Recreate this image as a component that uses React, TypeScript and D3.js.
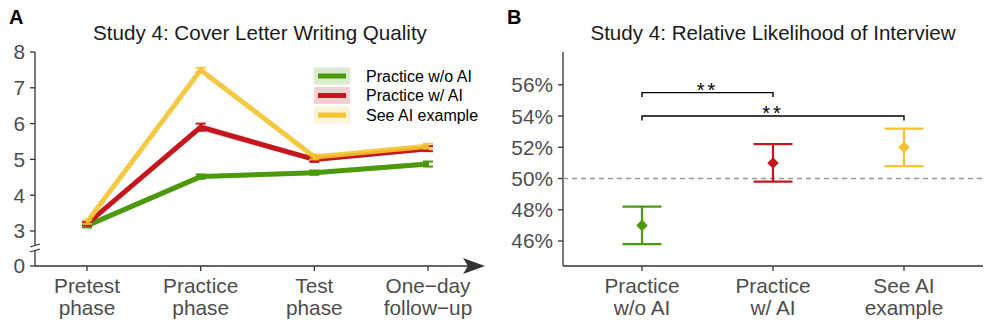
import React from 'react';
import * as d3 from 'd3';

// panel A: writing quality by phase
const phases = ['Pretest|phase', 'Practice|phase', 'Test|phase', 'One\u2212day|follow\u2212up'];
const groupNames = ['Practice w/o AI', 'Practice w/ AI', 'See AI example'];
const groupColors = ['#4c9a0c', '#c5161d', '#f5c32f'];
const qualityMean = [
    [3.15, 4.52, 4.63, 4.87],
    [3.2, 5.9, 5.0, 5.3],
    [3.25, 7.5, 5.07, 5.37],
];
const qualitySe = [
    [0.05, 0.06, 0.06, 0.07],
    [0.05, 0.1, 0.07, 0.07],
    [0.05, 0.06, 0.07, 0.07],
];
const qualityTicks = [0, 3, 4, 5, 6, 7, 8];

// panel B: relative likelihood of interview (%)
const bLabels = ['Practice|w/o AI', 'Practice|w/ AI', 'See AI|example'];
const interviewMean = [47.0, 51.0, 52.0];
const interviewLow = [45.8, 49.8, 50.8];
const interviewHigh = [48.2, 52.2, 53.2];
const interviewTicks = [46, 48, 50, 52, 54, 56];
const brackets = [
    { from: 0, to: 1, y: 55.5, label: '**' },
    { from: 0, to: 2, y: 54.0, label: '**' },
];

const FONT = '"Liberation Sans", Arial, Helvetica, sans-serif';
const axisCol = '#333333';
const tickTextCol = '#4d4d4d';
const TICK_FS = 20.8;
const TITLE_FS = 20.6;

function PanelA() {
    const x = d3.scalePoint<string>().domain(phases).range([87, 428]);
    const y = d3.scaleLinear().domain([0, 3, 8]).range([266, 231, 52]);

    const line = d3
        .line<number>()
        .x((_, i) => x(phases[i]) as number)
        .y((d) => y(d));

    const ribbon = (g: number) =>
        d3
            .area<number>()
            .x((_, i) => x(phases[i]) as number)
            .y0((d, i) => y(d - qualitySe[g][i]))
            .y1((d, i) => y(d + qualitySe[g][i]))(qualityMean[g]);

    return (
        <g>
            <text x={9} y={24} fontSize={20} fontWeight="bold" fill="#000">A</text>
            <text x={260} y={40} fontSize={TITLE_FS} textAnchor="middle" fill="#1a1a1a">
                Study 4: Cover Letter Writing Quality
            </text>

            {/* y axis with break */}
            <line x1={35} x2={35} y1={52} y2={245} stroke={axisCol} strokeWidth={1.3} />
            <line x1={35} x2={35} y1={251} y2={266} stroke={axisCol} strokeWidth={1.3} />
            <line x1={30} x2={40} y1={247} y2={244} stroke={axisCol} strokeWidth={1.2} />
            <line x1={30} x2={40} y1={252} y2={249} stroke={axisCol} strokeWidth={1.2} />
            {qualityTicks.map((t) => (
                <g key={t}>
                    <line x1={30} x2={35} y1={y(t)} y2={y(t)} stroke={axisCol} strokeWidth={1.3} />
                    <text x={25} y={y(t)} dy="0.36em" textAnchor="end" fontSize={TICK_FS} fill={tickTextCol}>
                        {t}
                    </text>
                </g>
            ))}

            {/* x axis with arrow */}
            <line x1={35} x2={468} y1={266} y2={266} stroke={axisCol} strokeWidth={1.6} />
            <path d="M485,266 L463,258 L468,266 L463,274 Z" fill={axisCol} />
            {phases.map((p) => {
                const [l1, l2] = p.split('|');
                const px = x(p) as number;
                return (
                    <g key={p}>
                        <line x1={px} x2={px} y1={266} y2={271} stroke={axisCol} strokeWidth={1.3} />
                        <text x={px} y={293} textAnchor="middle" fontSize={TICK_FS} fill={tickTextCol}>{l1}</text>
                        <text x={px} y={315} textAnchor="middle" fontSize={TICK_FS} fill={tickTextCol}>{l2}</text>
                    </g>
                );
            })}

            {/* series */}
            {qualityMean.map((vals, g) => (
                <g key={g}>
                    <path d={ribbon(g) as string} fill={groupColors[g]} opacity={0.25} />
                    <path
                        d={line(vals) as string}
                        fill="none"
                        stroke={groupColors[g]}
                        strokeWidth={5}
                        strokeLinejoin="round"
                        opacity={g === 2 ? 0.88 : 1}
                    />
                    {vals.map((v, i) => {
                        const px = x(phases[i]) as number;
                        const se = qualitySe[g][i];
                        return (
                            <g key={i} stroke={groupColors[g]} strokeWidth={2} opacity={g === 2 ? 0.88 : 1}>
                                <line x1={px} x2={px} y1={y(v - se)} y2={y(v + se)} />
                                <line x1={px - 5} x2={px + 5} y1={y(v - se)} y2={y(v - se)} />
                                <line x1={px - 5} x2={px + 5} y1={y(v + se)} y2={y(v + se)} />
                            </g>
                        );
                    })}
                </g>
            ))}

            {/* legend */}
            {groupNames.map((name, g) => {
                const ly = 76 + g * 19.5;
                return (
                    <g key={name}>
                        <rect x={314} y={ly - 8.5} width={36} height={17} fill={groupColors[g]} opacity={0.2} />
                        <line x1={318} x2={346} y1={ly} y2={ly} stroke={groupColors[g]} strokeWidth={5} />
                        <text x={366} y={ly} dy="0.36em" fontSize={16} fill="#000">{name}</text>
                    </g>
                );
            })}
        </g>
    );
}

function PanelB() {
    const x = d3.scalePoint<string>().domain(bLabels).range([642, 904]);
    const y = d3.scaleLinear().domain([44.4, 58.1]).range([266, 52]);
    const diamond = d3.symbol().type(d3.symbolDiamond2).size(85)();

    return (
        <g>
            <text x={507} y={24} fontSize={20} fontWeight="bold" fill="#000">B</text>
            <text x={773} y={40} fontSize={TITLE_FS} textAnchor="middle" fill="#1a1a1a">
                Study 4: Relative Likelihood of Interview
            </text>

            <line x1={563} x2={563} y1={52} y2={266} stroke={axisCol} strokeWidth={1.3} />
            <line x1={563} x2={983} y1={266} y2={266} stroke={axisCol} strokeWidth={1.3} />
            {interviewTicks.map((t) => (
                <g key={t}>
                    <line x1={558} x2={563} y1={y(t)} y2={y(t)} stroke={axisCol} strokeWidth={1.3} />
                    <text x={553} y={y(t)} dy="0.36em" textAnchor="end" fontSize={TICK_FS} fill={tickTextCol}>
                        {t}%
                    </text>
                </g>
            ))}
            {bLabels.map((p) => {
                const [l1, l2] = p.split('|');
                const px = x(p) as number;
                return (
                    <g key={p}>
                        <line x1={px} x2={px} y1={266} y2={271} stroke={axisCol} strokeWidth={1.3} />
                        <text x={px} y={293} textAnchor="middle" fontSize={TICK_FS} fill={tickTextCol}>{l1}</text>
                        <text x={px} y={315} textAnchor="middle" fontSize={TICK_FS} fill={tickTextCol}>{l2}</text>
                    </g>
                );
            })}

            <line x1={563} x2={983} y1={y(50)} y2={y(50)} stroke="#999999" strokeWidth={1.4} strokeDasharray="5,4" />

            {interviewMean.map((m, i) => {
                const px = x(bLabels[i]) as number;
                return (
                    <g key={i} stroke={groupColors[i]} strokeWidth={2.2}>
                        <line x1={px} x2={px} y1={y(interviewLow[i])} y2={y(interviewHigh[i])} />
                        <line x1={px - 19.5} x2={px + 19.5} y1={y(interviewLow[i])} y2={y(interviewLow[i])} />
                        <line x1={px - 19.5} x2={px + 19.5} y1={y(interviewHigh[i])} y2={y(interviewHigh[i])} />
                        <path d={diamond as string} transform={`translate(${px},${y(m)})`} fill={groupColors[i]} stroke="none" />
                    </g>
                );
            })}

            {brackets.map((b, k) => {
                const x1 = x(bLabels[b.from]) as number;
                const x2 = x(bLabels[b.to]) as number;
                const by = y(b.y);
                return (
                    <g key={k}>
                        <path
                            d={`M${x1},${by + 4.5} L${x1},${by} L${x2},${by} L${x2},${by + 4.5}`}
                            fill="none"
                            stroke="#000"
                            strokeWidth={1.4}
                        />
                        <text x={(x1 + x2) / 2} y={by + 4} textAnchor="middle" fontSize={20} letterSpacing={3} fill="#000">
                            {b.label}
                        </text>
                    </g>
                );
            })}
        </g>
    );
}

export default function App() {
    return (
        <svg
            width={996}
            height={332}
            style={{ position: 'absolute', left: 0, top: 0, background: '#fff' }}
            fontFamily={FONT}
        >
            <rect width={996} height={332} fill="#fff" />
            <PanelA />
            <PanelB />
        </svg>
    );
}
